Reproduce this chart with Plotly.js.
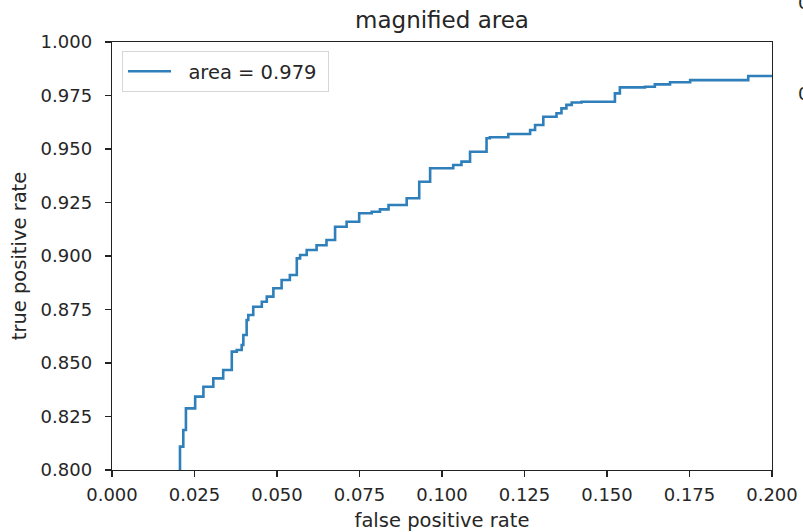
<!DOCTYPE html>
<html>
<head>
<meta charset="utf-8">
<script src="https://cdn.plot.ly/plotly-3.0.1.min.js"></script>
<style>html,body{margin:0;padding:0;background:#fff;}#chart{width:803px;height:532px;}</style>
</head>
<body>
<div id="chart"></div>
<script>
const fpr = [0.0206, 0.0206, 0.0216, 0.0224, 0.0252, 0.0277, 0.0307, 0.0337, 0.0363, 0.0378, 0.0393, 0.0398, 0.0408, 0.0413, 0.0428, 0.0454, 0.0469, 0.0489, 0.0514, 0.0539, 0.0560, 0.0570, 0.0590, 0.0620, 0.0650, 0.0676, 0.0711, 0.0749, 0.0787, 0.0812, 0.0838, 0.0893, 0.0931, 0.0964, 0.1034, 0.1059, 0.1085, 0.1135, 0.1145, 0.1201, 0.1267, 0.1282, 0.1307, 0.1347, 0.1362, 0.1377, 0.1393, 0.1423, 0.1524, 0.1539, 0.1615, 0.1645, 0.1691, 0.1752, 0.1928, 0.2100];
const tpr = [0.7900, 0.8109, 0.8187, 0.8288, 0.8343, 0.8389, 0.8428, 0.8467, 0.8553, 0.8561, 0.8584, 0.8631, 0.8701, 0.8724, 0.8763, 0.8786, 0.8810, 0.8849, 0.8888, 0.8911, 0.8989, 0.9005, 0.9028, 0.9050, 0.9075, 0.9137, 0.9160, 0.9200, 0.9207, 0.9218, 0.9238, 0.9270, 0.9347, 0.9410, 0.9425, 0.9441, 0.9487, 0.9550, 0.9555, 0.9570, 0.9589, 0.9612, 0.9651, 0.9667, 0.9690, 0.9706, 0.9717, 0.9721, 0.9760, 0.9788, 0.9791, 0.9802, 0.9812, 0.9822, 0.9841, 0.9843];
const legendLabel = 'area = 0.979';
const xTicks = [0, 0.025, 0.05, 0.075, 0.1, 0.125, 0.15, 0.175, 0.2];
const yTicks = [0.8, 0.825, 0.85, 0.875, 0.9, 0.925, 0.95, 0.975, 1.0];

const FAM = 'DejaVu Sans, sans-serif';
const INK = '#262626';
const axisCommon = {
  showgrid: false, zeroline: false, showline: true, linecolor: '#222', linewidth: 1.3,
  mirror: true, ticks: 'outside', ticklen: 6, tickwidth: 1.2, tickcolor: '#222',
  tickformat: '.3f', tickfont: {family: FAM, size: 18, color: INK}
};

Plotly.newPlot('chart', [{
  x: fpr, y: tpr, type: 'scatter', mode: 'lines', name: '\u00a0\u00a0' + legendLabel + '\u00a0',
  line: {color: '#2f7fba', width: 2.6, shape: 'hv'}
}], {
  width: 803, height: 532,
  margin: {l: 112, r: 31, t: 42, b: 62},
  paper_bgcolor: '#fff', plot_bgcolor: '#fff',
  font: {family: FAM, size: 18, color: INK},
  title: {text: 'magnified area', font: {family: FAM, size: 23, color: INK}, x: 0.5, xref: 'paper', xanchor: 'center', y: 1 - 20/532, yanchor: 'middle'},
  xaxis: Object.assign({}, axisCommon, {range: [0, 0.2], tickvals: xTicks, ticklabelstandoff: 2,
    title: {text: 'false positive rate', font: {family: FAM, size: 19.5, color: INK}, standoff: 9}}),
  yaxis: Object.assign({}, axisCommon, {range: [0.8, 1.0], tickvals: yTicks, ticklabelstandoff: 9,
    title: {text: 'true positive rate', font: {family: FAM, size: 19.5, color: INK}, standoff: 8}}),
  showlegend: true,
  legend: {x: 10/660, y: 1 - 9/428, xanchor: 'left', yanchor: 'top', bgcolor: 'rgba(255,255,255,0.8)',
    bordercolor: '#d6d6d6', borderwidth: 1, itemwidth: 43, font: {family: FAM, size: 19.5, color: INK}},
  annotations: [
    {text: '0', xref: 'paper', yref: 'paper', x: 1 + (796-772)/660, y: 1 + (42-3)/428, xanchor: 'left', yanchor: 'middle', showarrow: false, font: {family: FAM, size: 18, color: INK}},
    {text: '0', xref: 'paper', yref: 'paper', x: 1 + (796-772)/660, y: 1 - (93-42)/428, xanchor: 'left', yanchor: 'middle', showarrow: false, font: {family: FAM, size: 18, color: INK}}
  ]
}, {staticPlot: true, displayModeBar: false});
</script>
</body>
</html>
